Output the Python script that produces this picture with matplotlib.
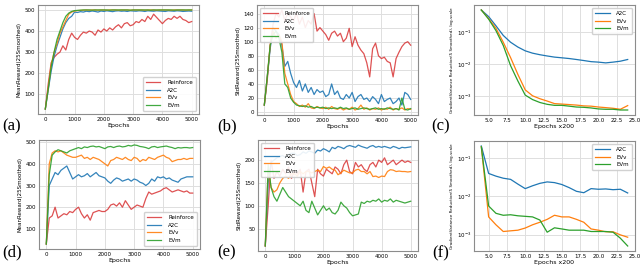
import matplotlib
matplotlib.use("Agg")
from matplotlib import pyplot as plt

# epochs for the reward panels, step 100
epochs = list(range(0, 5001, 100))
# x200 epochs for the variance panels
steps = list(range(4, 25))

## (a) mean reward, first setting
a_reinforce = [30, 150, 250, 275, 290, 300, 330, 310, 360, 390, 370, 360, 380, 395, 390, 400, 395, 380,
               405, 395, 410, 400, 415, 405, 420, 430, 415, 435, 440, 425, 430, 445, 440, 455, 445, 470,
               455, 480, 465, 450, 435, 450, 460, 455, 470, 460, 470, 455, 450, 440, 445]
a_a2c = [30, 120, 210, 280, 330, 370, 410, 440, 460, 470, 490, 488, 492, 490, 494, 492, 495, 493, 490,
         495, 493, 496, 494, 492, 495, 496, 494, 495, 493, 496, 495, 494, 496, 495, 493, 496, 495, 494,
         496, 495, 494, 493, 496, 495, 494, 496, 495, 493, 494, 495, 494]
a_evv = [30, 130, 240, 300, 340, 390, 420, 450, 480, 490, 495, 497, 498, 499, 500, 499, 500, 500, 499,
         500, 500, 499, 500, 500, 500, 499, 500, 500, 500, 499, 500, 500, 500, 500, 499, 500, 500, 500,
         499, 500, 500, 500, 500, 499, 500, 500, 500, 500, 499, 500, 500]
a_evm = [30, 125, 230, 300, 360, 400, 440, 470, 485, 493, 497, 498, 499, 500, 500, 500, 499, 500, 500,
         500, 500, 500, 499, 500, 500, 500, 500, 500, 500, 499, 500, 500, 500, 500, 500, 500, 499, 500,
         500, 500, 500, 500, 500, 500, 499, 500, 500, 500, 500, 500, 500]

## (b) std reward, first setting
b_reinforce = [10, 45, 95, 125, 140, 135, 145, 130, 140, 135, 130, 140, 125, 135, 120, 130, 125, 140,
               115, 120, 115, 110, 102, 112, 115, 108, 112, 100, 105, 119, 93, 107, 95, 88, 83, 70, 50,
               90, 98, 80, 76, 78, 72, 70, 50, 76, 85, 93, 98, 100, 95]
b_a2c = [10, 50, 90, 120, 115, 110, 95, 65, 72, 55, 42, 35, 45, 30, 40, 28, 35, 25, 32, 28, 30, 22, 25,
         40, 25, 30, 20, 18, 25, 20, 28, 15, 22, 25, 18, 20, 15, 22, 18, 12, 25, 15, 18, 20, 12, 15, 20,
         10, 28, 25, 18]
b_evv = [10, 50, 95, 115, 105, 110, 100, 55, 40, 25, 15, 12, 8, 10, 7, 12, 6, 5, 8, 6, 5, 7, 4, 8, 5, 4,
         6, 3, 5, 4, 7, 3, 5, 10, 4, 6, 3, 5, 4, 6, 3, 5, 4, 7, 3, 5, 4, 6, 3, 5, 4]
b_evm = [10, 50, 95, 110, 115, 105, 85, 40, 35, 20, 14, 10, 9, 8, 9, 7, 8, 6, 7, 6, 7, 5, 6, 5, 6, 5, 7,
         5, 6, 4, 5, 6, 4, 5, 6, 5, 4, 5, 6, 4, 5, 4, 6, 5, 4, 5, 3, 20, 4, 3, 5]

## (c) gradient variance reduction, first setting
c_a2c = [0.48, 0.30, 0.155, 0.078, 0.048, 0.034, 0.026, 0.022, 0.0197, 0.018, 0.0166, 0.0158, 0.015,
         0.014, 0.013, 0.012, 0.0116, 0.011, 0.0116, 0.0124, 0.014]
c_evv = [0.48, 0.26, 0.13, 0.048, 0.016, 0.0048, 0.0016, 0.00105, 0.00085, 0.00072, 0.0006, 0.00058,
         0.00056, 0.00054, 0.00051, 0.0005, 0.00047, 0.00045, 0.00043, 0.0004, 0.00052]
c_evm = [0.48, 0.25, 0.11, 0.038, 0.009, 0.003, 0.0011, 0.0008, 0.00065, 0.00057, 0.00053, 0.00053,
         0.0005, 0.00047, 0.00046, 0.00044, 0.00041, 0.0004, 0.0004, 0.00038, 0.00038]

## (d) mean reward, second setting
d_reinforce = [30, 150, 160, 200, 150, 160, 170, 165, 180, 175, 190, 200, 170, 150, 165, 140, 175, 180,
               185, 180, 180, 190, 210, 215, 205, 220, 200, 230, 210, 190, 200, 210, 205, 200, 240, 270,
               260, 265, 270, 275, 285, 290, 280, 270, 275, 280, 275, 270, 275, 265, 265]
d_a2c = [30, 300, 330, 360, 350, 370, 380, 390, 360, 330, 340, 350, 340, 345, 355, 340, 350, 360, 345,
         340, 335, 320, 310, 325, 335, 330, 320, 325, 330, 320, 330, 325, 315, 310, 300, 310, 330, 320,
         340, 335, 340, 330, 335, 325, 320, 315, 330, 335, 340, 340, 340]
d_evv = [30, 400, 450, 460, 455, 460, 450, 440, 435, 430, 430, 435, 440, 425, 430, 420, 430, 425, 420,
         410, 400, 390, 415, 420, 430, 425, 420, 430, 420, 415, 430, 425, 410, 420, 415, 430, 425, 420,
         430, 435, 440, 430, 425, 410, 415, 420, 420, 425, 420, 425, 425]
d_evm = [30, 350, 440, 455, 465, 460, 455, 450, 460, 465, 470, 475, 470, 478, 475, 480, 482, 478, 480,
         475, 470, 478, 480, 475, 480, 482, 478, 480, 485, 482, 487, 485, 480, 478, 475, 470, 478, 480,
         475, 478, 480, 482, 478, 475, 470, 475, 473, 475, 475, 473, 475]

## (e) std reward, second setting
e_reinforce = [12, 100, 200, 160, 175, 165, 180, 170, 185, 160, 175, 170, 180, 130, 175, 180, 150, 120,
               180, 170, 165, 180, 175, 170, 185, 180, 170, 190, 200, 175, 170, 195, 185, 190, 180, 175,
               190, 195, 185, 200, 195, 205, 190, 195, 200, 190, 195, 200, 195, 198, 195]
e_a2c = [12, 150, 195, 200, 205, 208, 210, 205, 212, 215, 215, 210, 212, 218, 215, 220, 218, 215, 222,
         220, 225, 222, 218, 228, 225, 230, 228, 225, 230, 232, 230, 228, 233, 230, 228, 226, 230, 232,
         228, 230, 228, 230, 228, 226, 230, 228, 225, 228, 227, 228, 229]
e_evv = [12, 180, 140, 130, 135, 150, 160, 165, 160, 170, 170, 165, 175, 170, 175, 175, 172, 175, 178,
         175, 186, 182, 185, 180, 178, 168, 172, 178, 175, 172, 172, 178, 180, 175, 175, 170, 175, 164,
         165, 162, 165, 164, 175, 179, 178, 175, 176, 175, 175, 174, 175]
e_evm = [12, 190, 140, 120, 110, 125, 140, 130, 120, 115, 110, 105, 100, 110, 90, 85, 110, 95, 80, 90,
         100, 90, 95, 85, 82, 90, 108, 100, 95, 85, 78, 80, 82, 108, 105, 110, 108, 112, 110, 115, 108,
         112, 110, 115, 108, 112, 110, 108, 106, 108, 110]

## (f) gradient variance reduction, second setting
f_a2c = [0.21, 0.04, 0.034, 0.030, 0.028, 0.021, 0.016, 0.019, 0.022, 0.024, 0.023, 0.0205, 0.017,
         0.0136, 0.0125, 0.016, 0.0154, 0.0157, 0.015, 0.0154, 0.0123]
f_evv = [0.2, 0.0029, 0.0018, 0.0012, 0.00125, 0.0013, 0.00148, 0.0018, 0.0021, 0.0025, 0.0032, 0.0029,
         0.0029, 0.0025, 0.0021, 0.0014, 0.0013, 0.00118, 0.00118, 0.00098, 0.00085]
f_evm = [0.2, 0.0056, 0.0036, 0.0032, 0.0033, 0.0031, 0.003, 0.0029, 0.0024, 0.00115, 0.0015, 0.0014,
         0.0013, 0.0013, 0.0013, 0.0012, 0.0012, 0.0012, 0.00115, 0.0008, 0.0005]

names = ["Reinforce", "A2C", "EVv", "EVm"]
colors = {"Reinforce": "#d62728", "A2C": "#1f77b4", "EVv": "#ff7f0e", "EVm": "#2ca02c"}

W, H = 640, 268
fig = plt.figure(figsize=(6.4, 2.68), dpi=100)


def make_axes(x0, x1, y0, y1):
    # pixel box -> figure fraction
    ax = fig.add_axes([x0 / W, (H - y1) / H, (x1 - x0) / W, (y1 - y0) / H])
    ax.set_facecolor("white")
    ax.grid(True, color="0.87", linewidth=0.7)
    ax.set_axisbelow(True)
    for s in ax.spines.values():
        s.set_color("0.55")
        s.set_linewidth(0.8)
    ax.tick_params(labelsize=4, length=0, pad=2)
    ax.tick_params(which="minor", length=0)
    return ax


def add_legend(ax, loc):
    ax.legend(loc=loc, fontsize=4, handlelength=2.6, framealpha=0.9, edgecolor="0.8",
              borderpad=0.6, labelspacing=0.45, handletextpad=1.2)


def reward_panel(ax, series, ylabel, loc):
    for name, ys in zip(names, series):
        ax.plot(epochs, ys, color=colors[name], lw=0.9,
                alpha=0.8 if name == "Reinforce" else 0.9, label=name)
    ax.set_xticks([0, 1000, 2000, 3000, 4000, 5000])
    ax.set_xlabel("Epochs", fontsize=4.5, labelpad=1)
    ax.set_ylabel(ylabel, fontsize=4, labelpad=2)
    add_legend(ax, loc)


def var_panel(ax, series):
    for name, ys in zip(names[1:], series):
        ax.plot(steps, ys, color=colors[name], lw=0.9, label=name)
    ax.set_yscale("log")
    ax.set_xticks([5.0, 7.5, 10.0, 12.5, 15.0, 17.5, 20.0, 22.5, 25.0])
    ax.set_xticklabels(["5.0", "7.5", "10.0", "12.5", "15.0", "17.5", "20.0", "22.5", "25.0"])
    ax.set_xlim(3, 25)
    ax.set_xlabel("Epochs x200", fontsize=4.5, labelpad=1)
    ax.set_ylabel("GradientVariance Reduction(5 Smoothed), log-scale", fontsize=2.9, labelpad=2)
    add_legend(ax, "upper right")


ax_a = make_axes(38, 199, 5, 114)
reward_panel(ax_a, [a_reinforce, a_a2c, a_evv, a_evm], "MeanReward(25Smoothed)", "lower right")

ax_b = make_axes(257, 418, 5, 115)
reward_panel(ax_b, [b_reinforce, b_a2c, b_evv, b_evm], "StdReward(25Smoothed)", "upper left")

ax_c = make_axes(474, 635, 5, 115)
var_panel(ax_c, [c_a2c, c_evv, c_evm])

ax_d = make_axes(39, 200, 140, 249)
reward_panel(ax_d, [d_reinforce, d_a2c, d_evv, d_evm], "MeanReward(25Smoothed)", "lower right")

ax_e = make_axes(258, 418, 140, 251)
reward_panel(ax_e, [e_reinforce, e_a2c, e_evv, e_evm], "StdReward(25Smoothed)", "upper left")

ax_f = make_axes(474, 635, 141, 251)
var_panel(ax_f, [f_a2c, f_evv, f_evm])

## panel letters
for lbl, px, py in [("(a)", 12, 126), ("(b)", 227, 126), ("(c)", 441, 126),
                    ("(d)", 12, 252), ("(e)", 227, 252), ("(f)", 441, 253)]:
    fig.text(px / W, 1 - py / H, lbl, fontsize=12, family="Liberation Serif",
             ha="center", va="center")

fig.savefig("out.png", dpi=100)
